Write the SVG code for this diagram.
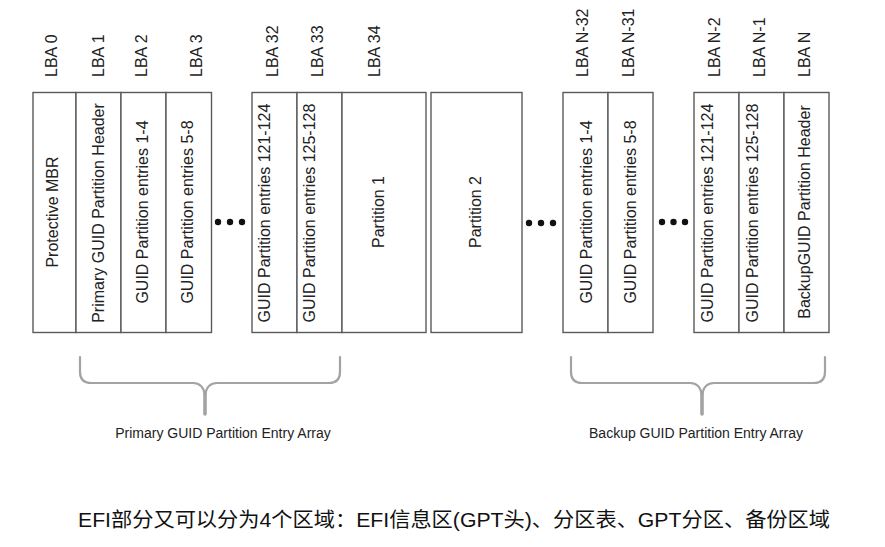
<svg xmlns="http://www.w3.org/2000/svg" width="885" height="547" viewBox="0 0 885 547">
<style>
.cell{fill:#fff;stroke:#5a5a5a;stroke-width:1.4}
.t{font-family:"Liberation Sans",Arial,sans-serif;font-size:16px;fill:#222;text-anchor:middle}
.lba{font-family:"Liberation Sans",Arial,sans-serif;font-size:16px;fill:#222;text-anchor:start}
.lbl{font-family:"Liberation Sans",Arial,sans-serif;font-size:14px;fill:#222;text-anchor:middle}
.dot{fill:#111}
.brace{fill:none;stroke:#a3a3a3;stroke-width:2.2;stroke-linecap:round;stroke-linejoin:round}
.stem{fill:none;stroke:#a3a3a3;stroke-width:3.6;stroke-linecap:round}
.cap{font-family:"Liberation Sans","Noto Sans CJK SC",sans-serif;font-size:20px;fill:#111}
</style>
<rect width="885" height="547" fill="#fff"/>

<g id="lba-labels">
<text class="lba" transform="translate(57,77) rotate(-90)">LBA 0</text>
<text class="lba" transform="translate(104,77) rotate(-90)">LBA 1</text>
<text class="lba" transform="translate(147,77) rotate(-90)">LBA 2</text>
<text class="lba" transform="translate(202,77) rotate(-90)">LBA 3</text>
<text class="lba" transform="translate(278,77) rotate(-90)">LBA 32</text>
<text class="lba" transform="translate(323,77) rotate(-90)">LBA 33</text>
<text class="lba" transform="translate(380,77) rotate(-90)">LBA 34</text>
<text class="lba" transform="translate(588,77) rotate(-90)">LBA N-32</text>
<text class="lba" transform="translate(634,77) rotate(-90)">LBA N-31</text>
<text class="lba" transform="translate(720,77) rotate(-90)">LBA N-2</text>
<text class="lba" transform="translate(765,77) rotate(-90)">LBA N-1</text>
<text class="lba" transform="translate(810,77) rotate(-90)">LBA N</text>
</g>

<g id="protective-mbr"><rect class="cell" x="33" y="92.5" width="43" height="240"/><text class="t" transform="translate(58,212) rotate(-90)">Protective MBR</text></g>
<g id="primary-header"><rect class="cell" x="76" y="92.5" width="45" height="240"/><text class="t" transform="translate(104,213) rotate(-90)">Primary GUID Partition Header</text></g>
<g id="entries-1-4"><rect class="cell" x="121" y="92.5" width="45" height="240"/><text class="t" transform="translate(148,212) rotate(-90)">GUID Partition entries 1-4</text></g>
<g id="entries-5-8"><rect class="cell" x="166" y="92.5" width="45.5" height="240"/><text class="t" transform="translate(193,212) rotate(-90)">GUID Partition entries 5-8</text></g>

<g id="dots-1"><circle class="dot" cx="218" cy="222" r="3.2"/><circle class="dot" cx="230" cy="222" r="3.2"/><circle class="dot" cx="242" cy="222" r="3.2"/></g>

<g id="entries-121-124"><rect class="cell" x="252" y="92.5" width="45" height="240"/><text class="t" transform="translate(270,213) rotate(-90)">GUID Partition entries 121-124</text></g>
<g id="entries-125-128"><rect class="cell" x="297" y="92.5" width="45" height="240"/><text class="t" transform="translate(315,213) rotate(-90)">GUID Partition entries 125-128</text></g>
<g id="partition-1"><rect class="cell" x="342" y="92.5" width="84" height="240"/><text class="t" transform="translate(384,212) rotate(-90)">Partition 1</text></g>
<g id="partition-2"><rect class="cell" x="431" y="92.5" width="91" height="240"/><text class="t" transform="translate(481,212) rotate(-90)">Partition 2</text></g>

<g id="dots-2"><circle class="dot" cx="529" cy="223" r="3.2"/><circle class="dot" cx="541" cy="223" r="3.2"/><circle class="dot" cx="553" cy="223" r="3.2"/></g>

<g id="backup-entries-1-4"><rect class="cell" x="563" y="92.5" width="45" height="240"/><text class="t" transform="translate(592,212) rotate(-90)">GUID Partition entries 1-4</text></g>
<g id="backup-entries-5-8"><rect class="cell" x="608" y="92.5" width="45" height="240"/><text class="t" transform="translate(636,212) rotate(-90)">GUID Partition entries 5-8</text></g>

<g id="dots-3"><circle class="dot" cx="662" cy="222" r="3.2"/><circle class="dot" cx="673.5" cy="222" r="3.2"/><circle class="dot" cx="685" cy="222" r="3.2"/></g>

<g id="backup-entries-121-124"><rect class="cell" x="694" y="92.5" width="45" height="240"/><text class="t" transform="translate(713,213) rotate(-90)">GUID Partition entries 121-124</text></g>
<g id="backup-entries-125-128"><rect class="cell" x="739" y="92.5" width="45" height="240"/><text class="t" transform="translate(758,213) rotate(-90)">GUID Partition entries 125-128</text></g>
<g id="backup-header"><rect class="cell" x="784" y="92.5" width="45" height="240"/><text class="t" transform="translate(810,212) rotate(-90)">BackupGUID Partition Header</text></g>

<g id="connectors">
<path class="brace" d="M80,357 L80,372 Q80,383 91,383 L193,383 Q203,383 205,395 Q207,383 217,383 L329,383 Q340,383 340,372 L340,357"/>
<path class="stem" d="M205,393 L205,414"/>
<path class="brace" d="M571,357 L571,372 Q571,383 582,383 L690,383 Q700,383 702,395 Q704,383 714,383 L814,383 Q825,383 825,372 L825,357"/>
<path class="stem" d="M702,393 L702,414"/>
</g>

<g id="array-labels">
<text class="lbl" x="223" y="438">Primary GUID Partition Entry Array</text>
<text class="lbl" x="696" y="438">Backup GUID Partition Entry Array</text>
</g>

<text class="cap" x="78" y="527" textLength="752" lengthAdjust="spacingAndGlyphs">EFI部分又可以分为4个区域：EFI信息区(GPT头)、分区表、GPT分区、备份区域</text>
</svg>
